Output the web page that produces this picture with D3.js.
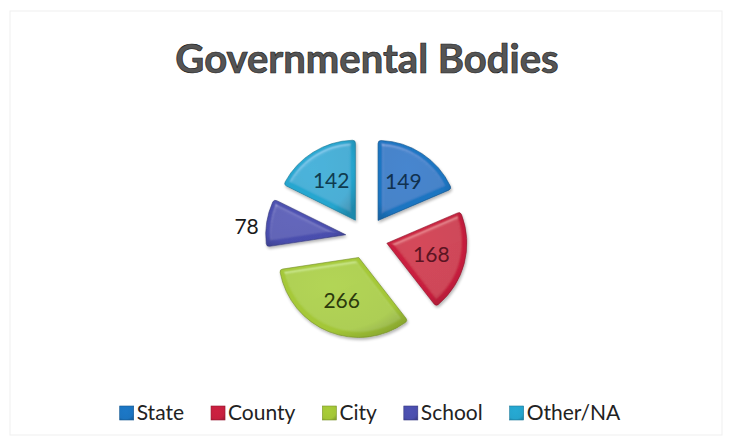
<!DOCTYPE html>
<html>
<head>
<meta charset="utf-8">
<script src="https://cdn.jsdelivr.net/npm/d3@7"></script>
<style>
  body { margin: 0; background: #fff; }
  text { font-family: Lato, "Noto Sans", sans-serif; }
</style>
</head>
<body>
<div id="chart"></div>
<script>
// data
var categories = ["State", "County", "City", "School", "Other/NA"]
var values = [149, 168, 266, 78, 142]
var colors = ["#1b74c0", "#c61f3e", "#a3c637", "#4a4ead", "#25a4cd"]
var labelColors = ["#10314f", "#5c1422", "#2c3a0c", "#1a1a1a", "#0f3b4f"]

var W = 733, H = 444
var svg = d3.select('#chart')
  .append('svg')
  .attr("width", W)
  .attr("height", H)

// faint chart border like the scan
svg.append("rect")
  .attr("x", 10).attr("y", 11)
  .attr("width", 712).attr("height", 424)
  .attr("fill", "#fff")
  .attr("stroke", "#efefef")

var defs = svg.append("defs")

// bevel / shine filter
var f = defs.append("filter").attr("id", "bevel")
  .attr("x", "-20%").attr("y", "-20%").attr("width", "140%").attr("height", "140%")
f.append("feGaussianBlur").attr("in", "SourceAlpha").attr("stdDeviation", 2.5).attr("result", "blur")
var spec = f.append("feSpecularLighting").attr("in", "blur")
  .attr("surfaceScale", 4).attr("specularConstant", 0.5)
  .attr("specularExponent", 25).attr("lighting-color", "#ffffff").attr("result", "spec")
spec.append("fePointLight").attr("x", -3000).attr("y", -8000).attr("z", 12000)
f.append("feComposite").attr("in", "spec").attr("in2", "SourceAlpha").attr("operator", "in").attr("result", "specOut")
f.append("feComposite").attr("in", "SourceGraphic").attr("in2", "specOut")
  .attr("operator", "arithmetic").attr("k1", 0).attr("k2", 1).attr("k3", 0.35).attr("k4", 0).attr("result", "lit")
f.append("feOffset").attr("in", "SourceAlpha").attr("dx", 1).attr("dy", 2).attr("result", "off")
f.append("feGaussianBlur").attr("in", "off").attr("stdDeviation", 1.5).attr("result", "sh")
f.append("feComponentTransfer").attr("in", "sh").attr("result", "sh2")
  .append("feFuncA").attr("type", "linear").attr("slope", 0.3)
var m = f.append("feMerge")
m.append("feMergeNode").attr("in", "sh2")
m.append("feMergeNode").attr("in", "lit")

colors.forEach(function (c, i) {
  var g = defs.append("radialGradient").attr("id", "grad" + i)
    .attr("cx", "40%").attr("cy", "35%").attr("r", "75%")
  g.append("stop").attr("offset", "0%").attr("stop-color", d3.color(c).brighter(0.1))
  g.append("stop").attr("offset", "75%").attr("stop-color", c)
  g.append("stop").attr("offset", "100%").attr("stop-color", d3.color(c).darker(0.5))
})

// title
svg.append("text")
  .attr("x", 367).attr("y", 73)
  .attr("text-anchor", "middle")
  .attr("font-size", 40)
  .attr("font-weight", "bold")
  .attr("fill", "#555")
  .attr("stroke", "#222")
  .attr("stroke-width", 0.7)
  .text("Governmental Bodies")

// pie
var cx = 366.5, cy = 238, radius = 80, explode = 21
var pie = d3.pie().sort(null).value(function (d) { return d })
var arcs = pie(values)
var arc = d3.arc().innerRadius(0).outerRadius(radius).cornerRadius(3)
var labelArc = d3.arc().innerRadius(46).outerRadius(46)

var g = svg.append("g").attr("transform", "translate(" + cx + "," + cy + ")")

function mid(d) { return (d.startAngle + d.endAngle) / 2 }

var slices = g.selectAll("g.slice")
  .data(arcs)
  .enter()
  .append("g")
  .attr("class", "slice")
  .attr("transform", function (d) {
    var a = mid(d)
    return "translate(" + (explode * Math.sin(a)) + "," + (-explode * Math.cos(a)) + ")"
  })

slices.append("path")
  .attr("d", arc)
  .attr("fill", function (d, i) { return "url(#grad" + i + ")" })
  .attr("stroke", function (d, i) { return d3.color(colors[i]).darker(1) })
  .attr("stroke-width", 0.6)
  .attr("filter", "url(#bevel)")

slices.append("text")
  .attr("transform", function (d) {
    if (d.data < 100) {
      var a = mid(d)
      return "translate(" + ((radius + 8) * Math.sin(a)) + "," + (-(radius + 8) * Math.cos(a) + 5) + ")"
    }
    return "translate(" + labelArc.centroid(d) + ")"
  })
  .attr("text-anchor", function (d) { return d.data < 100 ? "end" : "middle" })
  .attr("dy", "0.35em")
  .attr("font-size", 21)
  .attr("fill", function (d, i) { return labelColors[i] })
  .text(function (d) { return d.data })

// legend
var legend = svg.append("g")
var items = []
categories.forEach(function (c, i) {
  var item = legend.append("g")
  item.append("rect")
    .attr("x", 0).attr("y", -7)
    .attr("width", 14).attr("height", 14)
    .attr("fill", "url(#grad" + i + ")")
    .attr("stroke", d3.color(colors[i]).darker(0.8))
    .attr("stroke-width", 0.6)
  var t = item.append("text")
    .attr("x", 17).attr("y", 0)
    .attr("dy", "0.35em")
    .attr("font-size", 21)
    .attr("fill", "#222")
    .text(c)
  items.push({ g: item, w: 17 + t.node().getComputedTextLength() })
})
var gap = 27
var total = d3.sum(items, function (d) { return d.w }) + gap * (items.length - 1)
var lx = 370 - total / 2, ly = 413
items.forEach(function (it) {
  it.g.attr("transform", "translate(" + lx + "," + ly + ")")
  lx += it.w + gap
})
</script>
</body>
</html>
